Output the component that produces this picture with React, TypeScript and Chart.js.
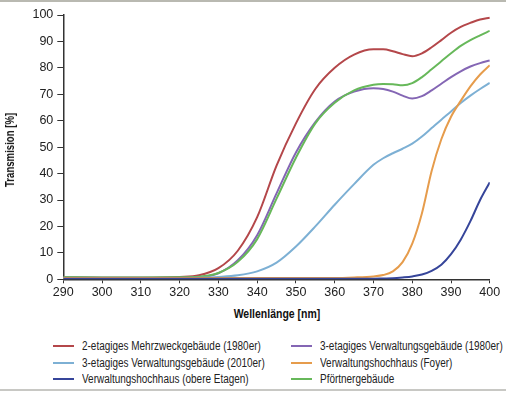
import React, { useEffect, useRef } from "react";
import { Chart, registerables } from "chart.js";

Chart.register(...registerables);

const wavelengths = [290, 300, 310, 320, 325, 330, 335, 340, 345, 350, 355, 360, 365, 370, 372.5, 375, 377.5, 380, 382.5, 385, 387.5, 390, 392.5, 395, 397.5, 400];

const mehrzweck1980 = [0.7, 0.6, 0.6, 0.9, 1.5, 4.2, 10.8, 23.5, 43, 59, 72, 80, 85, 87, 87, 86.3, 85.2, 84.4, 85.5, 87.8, 90.5, 93.3, 95.5, 97, 98.3, 99];
const verwaltung1980 = [0.7, 0.6, 0.6, 0.6, 0.8, 2.3, 7.2, 16.7, 32.5, 48, 59.5, 67.3, 71, 72.3, 72, 71, 69.5, 68.4, 69.3, 71.5, 74, 76.5, 78.7, 80.5, 81.8, 82.8];
const verwaltung2010 = [0.5, 0.5, 0.5, 0.5, 0.6, 0.9, 1.5, 3, 6.3, 12.4, 20, 28.2, 36, 43.3, 45.8, 47.7, 49.4, 51.3, 54, 57.2, 60.4, 63.5, 66.7, 69.5, 72, 74.3];
const hochhausFoyer = [0.5, 0.5, 0.5, 0.5, 0.5, 0.5, 0.5, 0.5, 0.5, 0.5, 0.5, 0.5, 0.7, 1.1, 1.6, 3, 6.5, 13.5, 25, 41, 53, 61.5, 67.5, 73, 77.5, 81];
const hochhausOben = [0.2, 0.2, 0.2, 0.2, 0.2, 0.2, 0.2, 0.2, 0.2, 0.2, 0.2, 0.2, 0.2, 0.2, 0.3, 0.4, 0.7, 1.1, 1.8, 3.2, 5.5, 9.5, 15, 22, 30, 36.7];
const pfoertner = [0.8, 0.7, 0.7, 0.8, 1.0, 2.4, 6.6, 15.2, 30.5, 46, 59, 66.8, 71.5, 73.6, 73.9, 73.8, 73.4, 74.2, 76.5, 79.5, 82.5, 85.5, 88.3, 90.5, 92.3, 94];

const seriesNames = [
  "2-etagiges Mehrzweckgebäude (1980er)",
  "3-etagiges Verwaltungsgebäude (1980er)",
  "3-etagiges Verwaltungsgebäude (2010er)",
  "Verwaltungshochhaus (Foyer)",
  "Verwaltungshochhaus (obere Etagen)",
  "Pförtnergebäude",
];
const seriesColors = ["#b4474a", "#8466b4", "#7db0d4", "#e69c4c", "#36459a", "#67b85a"];
const seriesValues = [mehrzweck1980, verwaltung1980, verwaltung2010, hochhausFoyer, hochhausOben, pfoertner];

const xTicks = [290, 300, 310, 320, 330, 340, 350, 360, 370, 380, 390, 400];
const yTicks = [0, 10, 20, 30, 40, 50, 60, 70, 80, 90, 100];
const xTitle = "Wellenlänge [nm]";
const yTitle = "Transmision [%]";

const SANS = "'Liberation Sans', Arial, sans-serif";

export default function App() {
  const canvasRef = useRef<HTMLCanvasElement | null>(null);

  useEffect(() => {
    document.body.style.margin = "0";
    const canvas = canvasRef.current;
    if (!canvas) return;
    const drawOrder = [4, 3, 2, 5, 1, 0];
    const datasets = drawOrder.map((i) => ({
      label: seriesNames[i],
      data: wavelengths.map((w, k) => ({ x: w, y: seriesValues[i][k] })),
      borderColor: seriesColors[i],
      backgroundColor: seriesColors[i],
      borderWidth: 2,
      pointRadius: 0,
      cubicInterpolationMode: "monotone" as const,
      fill: false,
    }));
    const chart = new Chart(canvas, {
      type: "line",
      data: { datasets },
      options: {
        animation: false,
        responsive: false,
        maintainAspectRatio: false,
        layout: { padding: { top: 15, right: 16.2, bottom: 0, left: 0 } },
        plugins: { legend: { display: false }, tooltip: { enabled: false } },
        scales: {
          x: {
            type: "linear",
            min: 290,
            max: 400,
            afterBuildTicks: (s: any) => {
              s.ticks = xTicks.map((v) => ({ value: v }));
            },
            afterFit: (s: any) => {
              s.height = 25.7;
            },
            grid: { display: true, drawOnChartArea: false, tickLength: 4, color: "#333", tickColor: "#333" } as any,
            border: { display: true, color: "#333", width: 1.5 },
            ticks: { color: "#222", padding: 2, maxRotation: 0, autoSkip: false, font: { family: SANS, size: 12.5 } },
          },
          y: {
            type: "linear",
            min: 0,
            max: 100,
            afterBuildTicks: (s: any) => {
              s.ticks = yTicks.map((v) => ({ value: v }));
            },
            afterFit: (s: any) => {
              s.width = 63.3;
            },
            grid: { display: true, drawOnChartArea: false, tickLength: 6, color: "#333", tickColor: "#333" } as any,
            border: { display: true, color: "#333", width: 1.5 },
            ticks: { color: "#222", padding: 4, autoSkip: false, font: { family: SANS, size: 12.5 } },
          },
        },
      },
    });
    return () => chart.destroy();
  }, []);

  const legendRows = [
    [0, 1],
    [2, 3],
    [4, 5],
  ];
  const rowY = [346.3, 362.6, 379];

  return (
    <div style={{ position: "relative", width: 506, height: 393, background: "#fff", overflow: "hidden" }}>
      <div style={{ position: "absolute", left: 0, top: 0, width: 506, height: 2, background: "#b9b9b1" }} />
      <canvas ref={canvasRef} width={506} height={305} style={{ position: "absolute", left: 0, top: 0, width: 506, height: 305 }} />
      <div
        style={{
          position: "absolute",
          left: 10,
          top: 150,
          transform: "translate(-50%, -50%) rotate(-90deg) scaleX(0.8)",
          fontFamily: SANS,
          fontWeight: "bold",
          fontSize: 12,
          lineHeight: "14px",
          color: "#111",
          whiteSpace: "nowrap",
        }}
      >
        {yTitle}
      </div>
      <div
        style={{
          position: "absolute",
          left: 276.5,
          top: 314,
          transform: "translate(-50%, -50%) scaleX(0.84)",
          fontFamily: SANS,
          fontWeight: "bold",
          fontSize: 12.5,
          lineHeight: "15px",
          color: "#111",
          whiteSpace: "nowrap",
        }}
      >
        {xTitle}
      </div>
      {legendRows.map((row, r) =>
        row.map((idx, c) => {
          const lineX = c === 0 ? 52.5 : 290.5;
          const textX = c === 0 ? 82 : 320;
          return (
            <React.Fragment key={`${r}-${c}`}>
              <div
                style={{
                  position: "absolute",
                  left: lineX,
                  top: rowY[r] - 1,
                  width: 21,
                  height: 2,
                  background: seriesColors[idx],
                }}
              />
              <div
                style={{
                  position: "absolute",
                  left: textX,
                  top: rowY[r] - 8,
                  height: 16,
                  lineHeight: "16px",
                  fontFamily: SANS,
                  fontSize: 12,
                  color: "#222",
                  whiteSpace: "nowrap",
                  transform: "scaleX(0.83)",
                  transformOrigin: "0 50%",
                }}
              >
                {seriesNames[idx]}
              </div>
            </React.Fragment>
          );
        })
      )}
      <div style={{ position: "absolute", left: 0, top: 388.5, width: 506, height: 2, background: "#c8c8c4" }} />
    </div>
  );
}
